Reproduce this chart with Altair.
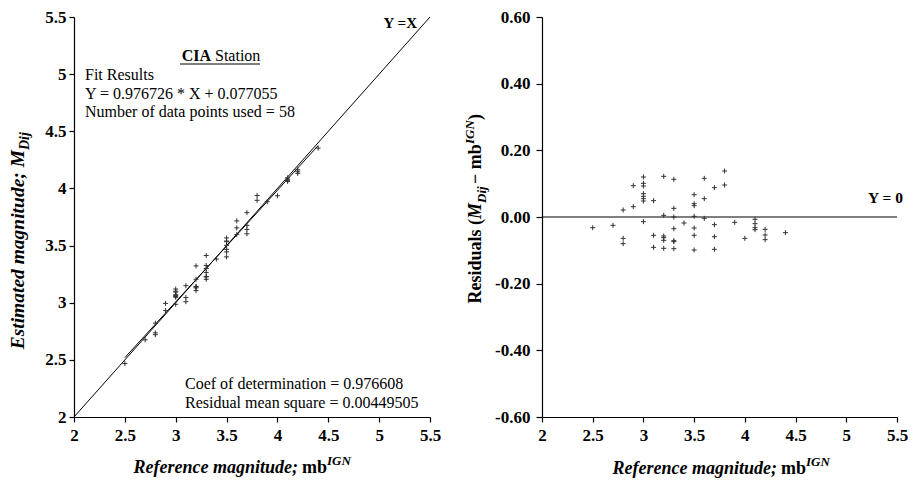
import altair as alt
import pandas as pd

# ---------------- data ----------------
ref_mag = [2.5, 2.7, 2.8, 2.8, 2.8, 2.9, 2.9,
           3.0, 3.0, 3.0, 3.0, 3.0, 3.0, 3.0, 3.0,
           3.1, 3.1, 3.1,
           3.2, 3.2, 3.2, 3.2, 3.2, 3.2,
           3.3, 3.3, 3.3, 3.3, 3.3, 3.3, 3.3,
           3.4,
           3.5, 3.5, 3.5, 3.5, 3.5, 3.5, 3.5,
           3.6, 3.6, 3.6,
           3.7, 3.7, 3.7, 3.7,
           3.8, 3.8,
           3.9, 4.0,
           4.1, 4.1, 4.1, 4.1,
           4.2, 4.2, 4.2,
           4.4]
residual = [-0.032, -0.025, 0.021, -0.064, -0.080, 0.094, 0.031,
            0.120, 0.101, 0.093, 0.070, 0.062, 0.055, 0.048, -0.014,
            0.049, -0.055, -0.091,
            0.122, 0.005, -0.057, -0.062, -0.070, -0.094,
            0.113, 0.026, 0.000, -0.035, -0.071, -0.074, -0.095,
            -0.018,
            0.067, 0.040, 0.034, 0.002, -0.033, -0.055, -0.099,
            0.116, 0.055, -0.004,
            0.088, -0.023, -0.059, -0.097,
            0.138, 0.096,
            -0.016, -0.064,
            -0.007, -0.020, -0.032, -0.038,
            -0.037, -0.054, -0.068,
            -0.047]

fit_slope = 0.976726
fit_intercept = 0.077055
fit_range = [2.5, 4.4]
identity_range = [2.0, 5.5]
zero_range = [2.0, 5.5]

x_ticks = [2, 2.5, 3, 3.5, 4, 4.5, 5, 5.5]
left_y_ticks = [2, 2.5, 3, 3.5, 4, 4.5, 5, 5.5]
right_y_ticks = [0.6, 0.5, 0.4, 0.3, 0.2, 0.1, 0.0, -0.1, -0.2, -0.3, -0.4, -0.5, -0.6]

# ---------------- styling ----------------
FONT = "Liberation Serif"
W, H = 356, 400
PLUS = "M-1,0L1,0M0,-1L0,1"

pts = pd.DataFrame({"ref": ref_mag, "res": residual})
one = pd.DataFrame({"k": [0]})

x_scale = alt.Scale(domain=[2, 5.5], nice=False, zero=False)
x_axis = alt.Axis(values=x_ticks, format="~g", title=None, labelPadding=5, tickSize=5, labelFlush=False)

left_y_scale = alt.Scale(domain=[2, 5.5], nice=False, zero=False)
left_y_axis = alt.Axis(values=left_y_ticks, format="~g", title=None, labelPadding=3, tickSize=5, labelFlush=False)

right_y_scale = alt.Scale(domain=[-0.6, 0.6], nice=False, zero=False)
odd = "abs(round(datum.value*10)) % 2 == 1"
right_y_axis = alt.Axis(
    values=right_y_ticks, title=None, labelPadding=6, labelFlush=False,
    tickSize={"condition": {"test": odd, "value": 3}, "value": 6},
    labelExpr=f"{odd} ? '' : (datum.value < -0.001 ? '-' + format(-datum.value, '.2f') : format(abs(datum.value), '.2f'))",
)


def txt(s, x, y, size=16, weight="normal", style="normal", align="left", angle=0, dy=0):
    return alt.Chart(one).mark_text(
        text=s, font=FONT, fontSize=size, fontWeight=weight, fontStyle=style,
        align=align, baseline="alphabetic", angle=angle, dy=dy, color="black",
    ).encode(x=alt.value(x), y=alt.value(y))


# ---------------- left panel ----------------
left_pts = alt.Chart(pts).transform_calculate(
    est="datum.ref + datum.res"
).mark_point(shape=PLUS, size=25, filled=False, stroke="#333333", strokeWidth=1, opacity=1).encode(
    x=alt.X("ref:Q", scale=x_scale, axis=x_axis),
    y=alt.Y("est:Q", scale=left_y_scale, axis=left_y_axis),
)

ident = alt.Chart(pd.DataFrame({"v": identity_range})).mark_line(color="black", strokeWidth=1).encode(
    x=alt.X("v:Q", scale=x_scale), y=alt.Y("v:Q", scale=left_y_scale)
)

fit = alt.Chart(pd.DataFrame({"ref": fit_range})).transform_calculate(
    fy=f"{fit_slope} * datum.ref + {fit_intercept}"
).mark_line(color="black", strokeWidth=1).encode(
    x=alt.X("ref:Q", scale=x_scale), y=alt.Y("fy:Q", scale=left_y_scale)
)

left_texts = [
    txt("CIA", 137, 44, weight="bold", align="right"),
    txt("Station", 141, 44),
    alt.Chart(one).mark_rule(color="black", strokeWidth=1).encode(
        x=alt.value(106), x2=alt.value(186), y=alt.value(47)),
    txt("Fit Results", 11, 63),
    txt("Y = 0.976726 * X + 0.077055", 11, 81.5),
    txt("Number of data points used = 58", 11, 100),
    txt("Coef of determination = 0.976608", 111, 372),
    txt("Residual mean square = 0.00449505", 111, 391),
    txt("Y =X", 343, 11, size=15, weight="bold", align="right"),
    # x title
    txt("Reference magnitude;", 224, H + 56, size=18, weight="bold", style="italic", align="right"),
    txt("mb", 228, H + 56, size=18, weight="bold"),
    txt("IGN", 253, H + 56, size=13, weight="bold", style="italic", dy=-8),
    # y title
    txt("Estimated magnitude; M", -50, 133, size=19.5, weight="bold", style="italic", align="right", angle=270),
    txt("Dij", -50, 133, size=14, weight="bold", style="italic", align="left", angle=270, dy=5),
]

left = alt.layer(ident, fit, left_pts, *left_texts).properties(width=W, height=H)

# ---------------- right panel ----------------
right_pts = alt.Chart(pts).mark_point(shape=PLUS, size=25, filled=False, stroke="#333333", strokeWidth=1, opacity=1).encode(
    x=alt.X("ref:Q", scale=x_scale, axis=x_axis),
    y=alt.Y("res:Q", scale=right_y_scale, axis=right_y_axis),
)

zero_line = alt.Chart(pd.DataFrame({"v": zero_range, "z": [0.0, 0.0]})).mark_line(color="black", strokeWidth=1.2).encode(
    x=alt.X("v:Q", scale=x_scale), y=alt.Y("z:Q", scale=right_y_scale)
)

RX = -61
right_texts = [
    txt("Y = 0", 361, 186, size=15.5, weight="bold", align="right"),
    # x title
    txt("Reference magnitude;", 235, H + 57, size=18, weight="bold", style="italic", align="right"),
    txt("mb", 239, H + 57, size=18, weight="bold"),
    txt("IGN", 264, H + 57, size=13, weight="bold", style="italic", dy=-8),
    # y title
    txt("Residuals (", RX, 202, size=18, weight="bold", align="right", angle=270),
    txt("M", RX, 202, size=18, weight="bold", style="italic", angle=270),
    txt("Dij", RX, 186, size=13, weight="bold", style="italic", angle=270, dy=5),
    txt("\u2212 mb", RX, 167, size=18, weight="bold", angle=270),
    txt("IGN", RX, 127, size=13, weight="bold", style="italic", angle=270, dy=-7),
    txt(")", RX, 103, size=18, weight="bold", angle=270),
]

right = alt.layer(zero_line, right_pts, *right_texts).properties(width=W - 1, height=H)

chart = alt.hconcat(left, right, spacing=23).properties(
    padding={"left": 0, "top": 0, "right": 0, "bottom": 0}
).configure_view(stroke=None).configure_axis(
    labelFont=FONT, labelFontSize=17, labelFontWeight="bold", labelColor="black",
    domainColor="black", domainWidth=1.2, tickColor="black", tickWidth=1.2, grid=False,
)

chart.save("out.html", embed_options={"renderer": "svg", "actions": False})
